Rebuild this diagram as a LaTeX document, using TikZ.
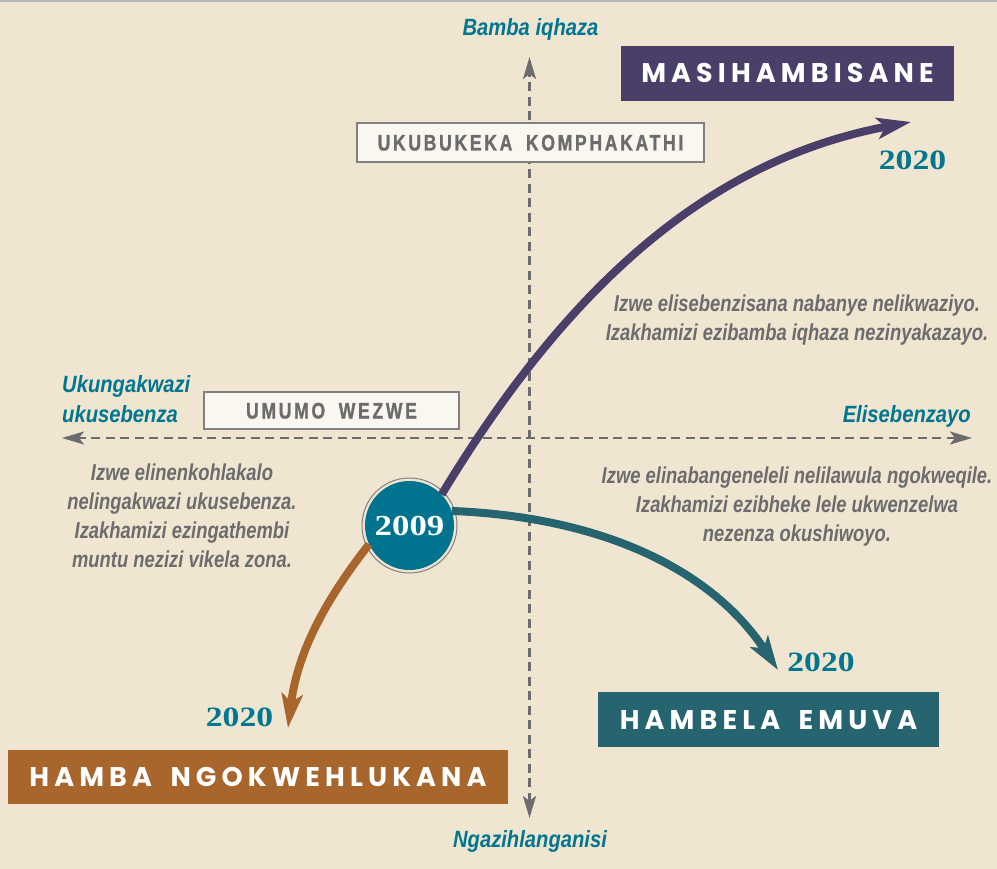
\documentclass[tikz,border=0pt]{standalone}
\usepackage{fontspec}
\usetikzlibrary{arrows.meta}
\definecolor{bg}{RGB}{240,229,208}
\definecolor{tealtxt}{RGB}{0,118,145}
\definecolor{graytxt}{RGB}{108,108,110}
\definecolor{purp}{RGB}{74,63,104}
\definecolor{brn}{RGB}{168,101,44}
\definecolor{dteal}{RGB}{38,100,112}
\definecolor{cteal}{RGB}{0,116,143}
\definecolor{boxfill}{RGB}{250,247,240}
\definecolor{boxedge}{RGB}{128,128,128}
\definecolor{topline}{RGB}{185,185,185}
\newfontfamily\condfont{Liberation Sans}[FakeStretch=0.8]
\newfontfamily\axfont{Liberation Sans}[FakeStretch=0.86]
\newfontfamily\capfont{Liberation Sans}[FakeStretch=0.78,LetterSpace=12,FakeBold=1.2,WordSpace=1.8]
\newfontfamily\titlefont{Poppins}[LetterSpace=19,WordSpace=1.7]
\newfontfamily\yearfont{Liberation Serif}[FakeStretch=1.2]
\tikzset{
  titlebox/.style={fill=#1, text=white, font=\titlefont\bfseries\fontsize{27}{27}\selectfont,
    text height=19pt, text depth=0pt, inner sep=0pt},
  labelbox/.style={fill=boxfill, draw=boxedge, line width=1.2pt, text=graytxt,
    font=\capfont\bfseries\fontsize{22.5}{22.5}\selectfont, text height=16pt, text depth=0pt, inner sep=0pt},
  axisline/.style={graytxt, line width=2.6pt, dash pattern=on 9pt off 5.5pt,
    {Stealth[length=22pt,width=13pt,inset=5pt]}-{Stealth[length=22pt,width=13pt,inset=5pt]}},
  trend/.style={line width=8pt, draw=#1, -{Stealth[length=34pt,width=21pt,inset=8pt]}},
  para/.style={text=graytxt, font=\condfont\bfseries\itshape\fontsize{23}{29}\selectfont, align=center, anchor=base, inner sep=0pt},
  axlabel/.style={text=tealtxt, font=\axfont\bfseries\itshape\fontsize{23.5}{30}\selectfont, anchor=base, inner sep=0pt},
  yearlabel/.style={text=tealtxt, font=\yearfont\bfseries\fontsize{28}{28}\selectfont, anchor=base, inner sep=0pt},
}
\begin{document}
\begin{tikzpicture}[x=1pt,y=-1pt]
\useasboundingbox (0,0) rectangle (997,869);
\fill[bg] (0,0) rectangle (997,869);
\draw[topline, line width=2pt] (0,1) -- (997,1);

% axes
\coordinate (ytop) at (529.5,57);
\coordinate (ybot) at (529.5,818);
\coordinate (xleft) at (62,438);
\coordinate (xright) at (972,438);
\draw[axisline] (ybot) -- (ytop);
\draw[axisline] (xright) -- (xleft);

% axis labels
\node[axlabel] (lbltop) at (530.5,36) {Bamba iqhaza};
\node[axlabel] (lblbot) at (530,847) {Ngazihlanganisi};
\node[axlabel, anchor=base west, align=left] (lblleft) at (62,422) {Ukungakwazi\\ukusebenza};
\node[axlabel, anchor=base east] (lblright) at (971,422) {Elisebenzayo};

% label boxes
\node[labelbox, minimum width=347pt, minimum height=39pt] (komph) at (530.5,142.5) {UKUBUKEKA KOMPHAKATHI};
\node[labelbox, minimum width=255pt, minimum height=37pt] (umumo) at (331.5,410.5) {UMUMO WEZWE};

% paragraphs (anchor base = last line)
\node[para] (pur) at (797,341) {Izwe elisebenzisana nabanye nelikwaziyo.\\Izakhamizi ezibamba iqhaza nezinyakazayo.};
\node[para] (plr) at (797,541) {Izwe elinabangeneleli nelilawula ngokweqile.\\Izakhamizi ezibheke lele ukwenzelwa\\nezenza okushiwoyo.};
\node[para] (pl) at (182,567) {Izwe elinenkohlakalo\\nelingakwazi ukusebenza.\\Izakhamizi ezingathembi\\muntu nezizi vikela zona.};

% title boxes
\node[titlebox=purp, minimum width=333pt, minimum height=55pt] (masi) at (787.5,73.5) {MASIHAMBISANE};
\node[titlebox=dteal, minimum width=341pt, minimum height=55pt] (hambela) at (768.5,719.5) {HAMBELA EMUVA};
\node[titlebox=brn, minimum width=500pt, minimum height=54pt] (hamba) at (258,777) {HAMBA NGOKWEHLUKANA};

% years
\node[yearlabel] (y1) at (912.5,170) {2020};
\node[yearlabel] (y2) at (821,671) {2020};
\node[yearlabel] (y3) at (239.5,726) {2020};

% centre circle
\node[circle, fill=cteal, minimum size=89pt, inner sep=0pt, text=white,
  font=\yearfont\bfseries\fontsize{29}{29}\selectfont] (c09) at (409.5,525.5) {2009};
\draw[boxedge, line width=1pt] (c09.center) circle (47.5pt);

% trend arrows
\coordinate (endpur) at (911,122);
\coordinate (endteal) at (778,670);
\coordinate (endbrn) at (288,728);
\draw[trend=purp] (c09.44) .. controls (572,279) and (714,159) .. (endpur);
\draw[trend=dteal] (c09.19) .. controls (603,517) and (712,570) .. (endteal);
\draw[trend=brn] (c09.205) .. controls (331,593) and (298,647) .. (endbrn);
\end{tikzpicture}
\end{document}
